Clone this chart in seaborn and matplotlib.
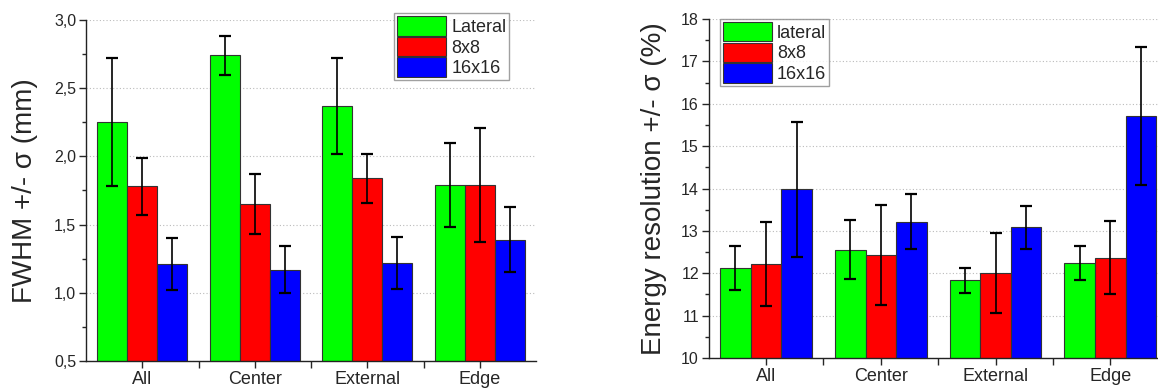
import numpy as np
import pandas as pd
import matplotlib
matplotlib.use("Agg")
import matplotlib.pyplot as plt
from matplotlib.ticker import MultipleLocator, FuncFormatter
import seaborn as sns

# ===============================
# Data
# ===============================
categories = ["All", "Center", "External", "Edge"]

fwhm_labels = ["Lateral", "8x8", "16x16"]
fwhm_lateral = [2.25, 2.74, 2.37, 1.79]
fwhm_8x8 = [1.78, 1.65, 1.84, 1.79]
fwhm_16x16 = [1.21, 1.17, 1.22, 1.39]
fwhm_err_lateral = [0.47, 0.14, 0.35, 0.31]
fwhm_err_8x8 = [0.21, 0.22, 0.18, 0.42]
fwhm_err_16x16 = [0.19, 0.17, 0.19, 0.24]

eres_labels = ["lateral", "8x8", "16x16"]
eres_lateral = [12.13, 12.56, 11.83, 12.24]
eres_8x8 = [12.21, 12.44, 12.01, 12.37]
eres_16x16 = [13.98, 13.22, 13.08, 15.71]
eres_err_lateral = [0.52, 0.69, 0.29, 0.41]
eres_err_8x8 = [0.99, 1.18, 0.95, 0.87]
eres_err_16x16 = [1.60, 0.65, 0.51, 1.63]

colors = ["#00ff00", "#ff0000", "#0000ff"]

sns.set_style("ticks")
plt.rcParams["font.family"] = ["Liberation Sans", "DejaVu Sans"]


def long_frame(labels, series):
    rows = []
    for lab, vals in zip(labels, series):
        for cat, v in zip(categories, vals):
            rows.append({"cat": cat, "group": lab, "value": v})
    return pd.DataFrame(rows)


def draw_panel(ax, labels, series, errs, ylim, major, minor, ylabel, ylabel_size,
               labelpad, legend_loc, bbox, comma=False):
    df = long_frame(labels, series)
    sns.barplot(data=df, x="cat", y="value", hue="group", order=categories,
                hue_order=labels, palette=colors, errorbar=None, width=0.8,
                saturation=1, edgecolor="#333333", linewidth=0.8, ax=ax, zorder=2)
    # error bars placed on the drawn bars
    for cont, err in zip(ax.containers, errs):
        for bar, e in zip(cont, err):
            x = bar.get_x() + bar.get_width() / 2
            ax.errorbar(x, bar.get_height(), yerr=e, color="black", lw=1.2,
                        capsize=4, capthick=1.6, zorder=3)
    ax.set_ylim(*ylim)
    ax.set_xlim(-0.5, 3.5)
    ax.yaxis.set_major_locator(MultipleLocator(major))
    ax.yaxis.set_minor_locator(MultipleLocator(minor))
    if comma:
        ax.yaxis.set_major_formatter(FuncFormatter(lambda v, p: f"{v:.1f}".replace(".", ",")))
    ax.set_xticks(range(len(categories)))
    ax.set_xticks([0.5, 1.5, 2.5], minor=True)
    ax.set_xticklabels(categories, fontsize=13)
    ax.tick_params(axis="y", labelsize=11.5, direction="out", length=5, width=1, pad=2)
    ax.tick_params(axis="y", which="minor", direction="out", length=3, width=1)
    ax.tick_params(axis="x", which="both", direction="out", length=5, width=1, pad=2)
    ax.set_xlabel("")
    ax.set_ylabel(ylabel, fontsize=ylabel_size, labelpad=labelpad)
    ax.grid(axis="y", linestyle=(0, (1, 2)), color="#bbbbbb", lw=0.8, zorder=0)
    ax.set_axisbelow(True)
    sns.despine(ax=ax)
    for s in ["left", "bottom"]:
        ax.spines[s].set_linewidth(1.0)
        ax.spines[s].set_color("#222222")
    handles = [plt.Rectangle((0, 0), 1, 1, facecolor=c, edgecolor="#333333", lw=0.8)
               for c in colors]
    leg = ax.legend(handles, labels, loc=legend_loc, bbox_to_anchor=bbox, fontsize=13,
                    frameon=True, fancybox=False, edgecolor="#888888",
                    handlelength=2.7, handleheight=1.3, labelspacing=0.05,
                    handletextpad=0.3, borderpad=0.15, borderaxespad=0)
    leg.get_frame().set_linewidth(1.0)


fig = plt.figure(figsize=(11.58, 3.89), dpi=100)
ax1 = fig.add_axes([0.0743, 0.072, 0.3886, 0.8766])
ax2 = fig.add_axes([0.612, 0.0797, 0.3964, 0.8714])

draw_panel(ax1, fwhm_labels, [fwhm_lateral, fwhm_8x8, fwhm_16x16],
           [fwhm_err_lateral, fwhm_err_8x8, fwhm_err_16x16],
           (0.5, 3.0), 0.5, 0.25, "FWHM +/- σ (mm)", 20, 12,
           "upper right", (0.94, 1.02), comma=True)
draw_panel(ax2, eres_labels, [eres_lateral, eres_8x8, eres_16x16],
           [eres_err_lateral, eres_err_8x8, eres_err_16x16],
           (10, 18), 1, 0.5, "Energy resolution +/- σ (%)", 20, 10,
           "upper left", (0.025, 1.0))

fig.savefig("out.png", dpi=100)
